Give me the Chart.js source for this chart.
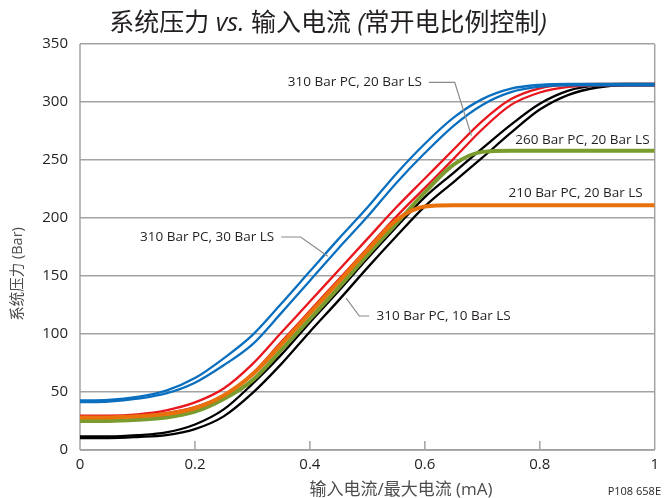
<!DOCTYPE html>
<html>
<head>
<meta charset="utf-8">
<script src="https://cdn.jsdelivr.net/npm/chart.js@4/dist/chart.umd.min.js"></script>
<style>
  html, body { margin: 0; padding: 0; background: #fff; }
  #wrap { width: 665px; height: 498px; position: relative; }
</style>
</head>
<body>
<div id="wrap"><canvas id="chart" width="665" height="498"></canvas></div>
<script>
// Input current as a fraction of maximum current
const currentRatio = [0, 0.05, 0.1, 0.15, 0.2, 0.25, 0.3, 0.35, 0.4, 0.45, 0.5,
                      0.55, 0.6, 0.65, 0.7, 0.75, 0.8, 0.85, 0.9, 0.95, 1];

// 310 Bar PC, 30 Bar LS (rising / falling branches)
const pc310ls30Up   = [42.7, 43.2, 45.8, 51.2, 62, 79, 99, 126, 154, 182, 209, 238, 264, 286.5, 302.5, 311.5, 314.8, 315.6, 315.6, 315.6, 315.6];
const pc310ls30Down = [41.3, 41.8, 44.2, 48.8, 58, 73, 91, 118, 146, 174, 201, 230, 256, 279.5, 297.5, 308.5, 313.2, 314.4, 314.4, 314.4, 314.4];

// 310 Bar PC, 20 Bar LS
const pc310ls20Up   = [29.7, 29.7, 30.8, 34.2, 41, 53, 74, 101, 128, 155, 182, 209, 234, 259, 283.5, 302.5, 311.8, 315, 315.6, 315.6, 315.6];
const pc310ls20Down = [28.3, 28.3, 29.2, 31.8, 37, 47, 66, 93, 120, 147, 174, 201, 226, 251, 276.5, 297.5, 308.2, 313, 314.4, 314.4, 314.4];

// 310 Bar PC, 10 Bar LS
const pc310ls10Up   = [11.7, 11.7, 12.8, 15.2, 22, 35, 57, 82, 110, 137, 165, 192, 218, 239, 260, 280.5, 298.5, 309.8, 314.5, 315.6, 315.6];
const pc310ls10Down = [10.3, 10.3, 11.2, 12.8, 18, 29, 49, 74, 102, 129, 157, 184, 210, 231, 252, 273.5, 293.5, 306.2, 312.5, 314.4, 314.4];

// 260 Bar PC, 20 Bar LS
const pc260ls20 = [25, 25, 26, 28, 33, 44, 60, 86, 113, 140, 168, 195, 222, 246, 257, 258, 258, 258, 258, 258, 258];

// 210 Bar PC, 20 Bar LS
const pc210ls20 = [28, 28, 29, 31, 36, 47, 65, 91, 118, 145, 172, 198, 210, 211, 211, 211, 211, 211, 211, 211, 211];

// Axis ticks
const xTicks = [0, 0.2, 0.4, 0.6, 0.8, 1];
const yTicks = [0, 50, 100, 150, 200, 250, 300, 350];

const seriesLabels = ['310 Bar PC, 20 Bar LS', '260 Bar PC, 20 Bar LS', '210 Bar PC, 20 Bar LS',
                      '310 Bar PC, 30 Bar LS', '310 Bar PC, 10 Bar LS'];

const COLORS = {
  blue: '#0a6fbe',
  red: '#e8161d',
  black: '#000000',
  green: '#7a9c2f',
  orange: '#e8710c',
  grid: '#a3a3a3',
  leader: '#8a8a8a',
  text: '#231f20',
  axisTitle: '#4d4d4d'
};

const FONT_LATIN = '"Open Sans", "Noto Sans CJK SC", sans-serif';

// Callout placement in data coordinates
const callouts = [
  { text: seriesLabels[0], x: 0.595, y: 317, align: 'right',
    leader: [[0.607, 317], [0.652, 317], [0.681, 271]] },
  { text: seriesLabels[1], x: 0.991, y: 267, align: 'right', leader: [] },
  { text: seriesLabels[2], x: 0.979, y: 221.5, align: 'right', leader: [] },
  { text: seriesLabels[3], x: 0.338, y: 183.6, align: 'right',
    leader: [[0.35, 183.6], [0.384, 183.6], [0.431, 167]] },
  { text: seriesLabels[4], x: 0.516, y: 115.5, align: 'left',
    leader: [[0.503, 115.5], [0.486, 115.5], [0.463, 131]] }
];

function pts(ys) {
  return currentRatio.map((x, i) => ({ x: x, y: ys[i] }));
}

function line(label, ys, color, width, order) {
  return {
    label: label,
    data: pts(ys),
    borderColor: color,
    backgroundColor: color,
    borderWidth: width,
    pointRadius: 0,
    fill: false,
    cubicInterpolationMode: 'monotone',
    borderCapStyle: 'butt',
    borderJoinStyle: 'round',
    order: order
  };
}

// Title with italic Latin parts
const titlePlugin = {
  id: 'titleText',
  afterDraw(chart) {
    const ctx = chart.ctx;
    const size = 25;
    const parts = [
      { t: '系统压力 ', it: false },
      { t: 'vs.', it: true },
      { t: ' 输入电流 ', it: false },
      { t: '(', it: true },
      { t: '常开电比例控制', it: false },
      { t: ')', it: true }
    ];
    ctx.save();
    ctx.fillStyle = COLORS.text;
    ctx.textBaseline = 'alphabetic';
    let total = 0;
    parts.forEach(p => {
      ctx.font = (p.it ? 'italic ' : '') + size + 'px ' + FONT_LATIN;
      p.w = ctx.measureText(p.t).width;
      total += p.w;
    });
    let x = 328 - total / 2;
    parts.forEach(p => {
      ctx.font = (p.it ? 'italic ' : '') + size + 'px ' + FONT_LATIN;
      ctx.fillText(p.t, x, 31);
      x += p.w;
    });
    ctx.restore();
  }
};

// Plot frame, inward x tick marks, axis titles, callouts, footnote
const decorPlugin = {
  id: 'decor',
  beforeDatasetsDraw(chart) {
    const { ctx, chartArea: a, scales } = chart;
    ctx.save();
    ctx.strokeStyle = COLORS.grid;
    ctx.lineWidth = 1.5;
    ctx.beginPath();
    ctx.moveTo(a.left, a.top); ctx.lineTo(a.left, a.bottom);
    ctx.moveTo(a.right, a.top); ctx.lineTo(a.right, a.bottom);
    ctx.moveTo(a.left, a.bottom); ctx.lineTo(a.right, a.bottom);
    xTicks.forEach(v => {
      const px = scales.x.getPixelForValue(v);
      ctx.moveTo(px, a.bottom); ctx.lineTo(px, a.bottom - 9);
    });
    ctx.stroke();
    ctx.restore();
  },
  afterDraw(chart) {
    const { ctx, scales } = chart;
    const sx = scales.x, sy = scales.y;
    ctx.save();
    // callouts
    ctx.font = '13.5px ' + FONT_LATIN;
    ctx.fillStyle = COLORS.text;
    ctx.textBaseline = 'middle';
    callouts.forEach(c => {
      ctx.textAlign = c.align;
      ctx.fillText(c.text, sx.getPixelForValue(c.x), sy.getPixelForValue(c.y));
      if (c.leader.length) {
        ctx.strokeStyle = COLORS.leader;
        ctx.lineWidth = 1.2;
        ctx.beginPath();
        c.leader.forEach((p, i) => {
          const px = sx.getPixelForValue(p[0]), py = sy.getPixelForValue(p[1]);
          if (i === 0) ctx.moveTo(px, py); else ctx.lineTo(px, py);
        });
        ctx.stroke();
      }
    });
    // axis titles
    ctx.fillStyle = COLORS.axisTitle;
    ctx.font = '17px ' + FONT_LATIN;
    ctx.textAlign = 'center';
    ctx.fillText('输入电流/最大电流 (mA)', 401, 490);
    ctx.save();
    ctx.font = '14.5px ' + FONT_LATIN;
    ctx.translate(18, 274);
    ctx.rotate(-Math.PI / 2);
    ctx.fillText('系统压力 (Bar)', 0, 0);
    ctx.restore();
    // footnote
    ctx.fillStyle = COLORS.text;
    ctx.font = '11px ' + FONT_LATIN;
    ctx.textAlign = 'right';
    ctx.fillText('P108 658E', 661, 492);
    ctx.restore();
  }
};

new Chart(document.getElementById('chart'), {
  type: 'line',
  data: {
    datasets: [
      line(seriesLabels[3], pc310ls30Up, COLORS.blue, 2.3, 0),
      line(seriesLabels[3], pc310ls30Down, COLORS.blue, 2.3, 0),
      line(seriesLabels[2], pc210ls20, COLORS.orange, 4, 1),
      line(seriesLabels[1], pc260ls20, COLORS.green, 4, 2),
      line(seriesLabels[0], pc310ls20Up, COLORS.red, 2.3, 3),
      line(seriesLabels[0], pc310ls20Down, COLORS.red, 2.3, 3),
      line(seriesLabels[4], pc310ls10Up, COLORS.black, 2.3, 4),
      line(seriesLabels[4], pc310ls10Down, COLORS.black, 2.3, 4)
    ]
  },
  options: {
    responsive: false,
    animation: false,
    events: [],
    layout: { padding: { top: 44, right: 5, left: 0, bottom: 0 } },
    plugins: { legend: { display: false }, title: { display: false }, tooltip: { enabled: false } },
    scales: {
      x: {
        type: 'linear',
        min: 0, max: 1,
        afterBuildTicks(scale) { scale.ticks = xTicks.map(v => ({ value: v })); },
        afterFit(scale) { scale.height = 48; },
        grid: { display: false, drawTicks: false },
        border: { display: false },
        ticks: {
          padding: 6,
          color: COLORS.text,
          font: { family: FONT_LATIN, size: 15 },
          maxRotation: 0,
          callback: v => String(v)
        }
      },
      y: {
        type: 'linear',
        min: 0, max: 350,
        afterBuildTicks(scale) { scale.ticks = yTicks.map(v => ({ value: v })); },
        afterFit(scale) { scale.width = 80; },
        grid: { color: COLORS.grid, lineWidth: 1.5, drawTicks: false },
        border: { display: false },
        ticks: {
          padding: 12,
          color: COLORS.text,
          font: { family: FONT_LATIN, size: 15 }
        }
      }
    }
  },
  plugins: [titlePlugin, decorPlugin]
});
</script>
</body>
</html>
